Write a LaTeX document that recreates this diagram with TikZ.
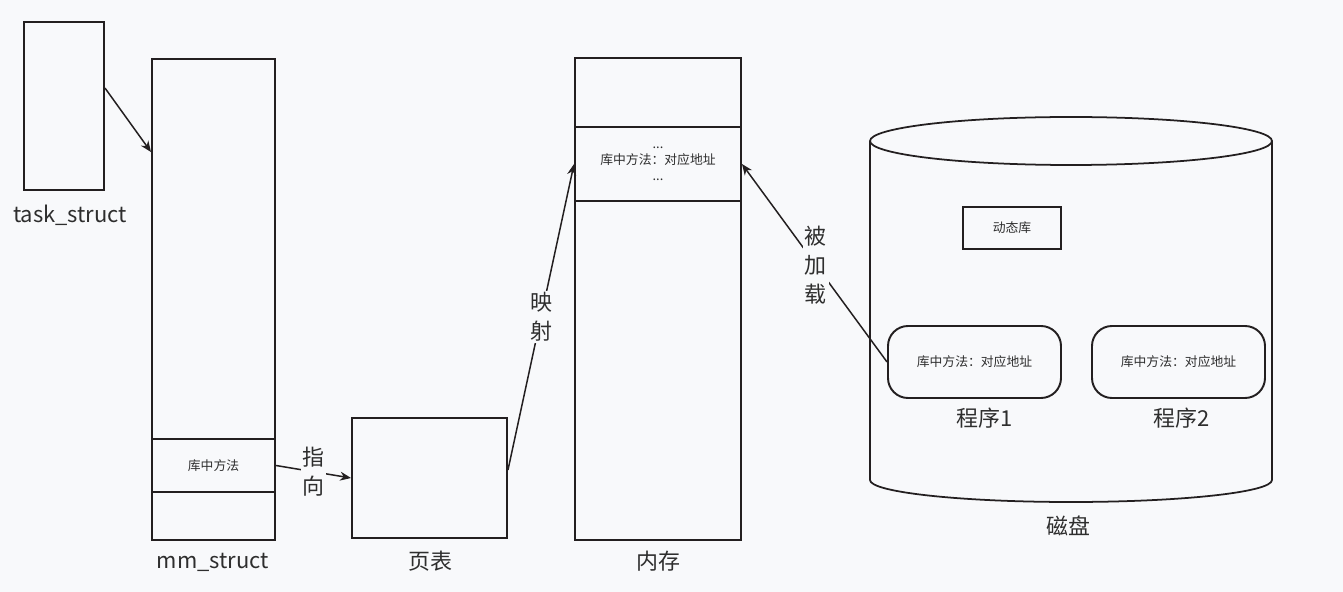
\documentclass[tikz,border=0pt]{standalone}
\usepackage{fontspec}
\setmainfont{Noto Sans CJK SC}
\usetikzlibrary{arrows.meta,positioning,calc}
\definecolor{paper}{HTML}{F8F9FB}
\definecolor{ink}{HTML}{231F20}
\definecolor{txt}{HTML}{2E2E2E}
\tikzset{
  % ---- boxes -----------------------------------------------------
  blk/.style   = {draw=ink, line width=1.1pt, inner sep=0pt, align=center,
                  text=txt, font=\fontsize{7.3}{9}\selectfont},
  prog/.style  = {blk, rounded corners=0.4cm},
  % ---- captions --------------------------------------------------
  lbl/.style   = {text=txt, inner sep=1pt, font=\fontsize{12.5}{14}\selectfont},
  vlab/.style  = {lbl, fill=paper, align=center,
                  font=\fontsize{12.5}{16.4}\selectfont},
  % ---- connectors ------------------------------------------------
  arr/.style   = {draw=ink, line width=0.85pt,
                  -{Stealth[length=2.2mm, width=1.8mm]}},
}
\begin{document}
\begin{tikzpicture}
\fill[paper] (0,0) rectangle (26.86,-11.84);
\useasboundingbox (0,0) rectangle (26.86,-11.84);
% task_struct
\node[blk, minimum width=1.6cm, minimum height=3.36cm] (task) at (1.28,-2.12) {};
\node[lbl] (tasklab) at (1.40,-4.30) {task\_struct};
% mm_struct
\node[blk, minimum width=2.46cm, minimum height=9.62cm] (mm) at (4.27,-5.99) {};
\node[blk, minimum width=2.46cm, minimum height=1.06cm] (mmlib) at (4.27,-9.31) {库中方法};
\node[lbl] (mmlab) at (4.26,-11.24) {mm\_struct};
% page table
\node[blk, minimum width=3.1cm, minimum height=2.4cm] (pt) at (8.59,-9.56) {};
\node[lbl] (ptlab) at (8.60,-11.22) {页表};
% memory
\node[blk, minimum width=3.32cm, minimum height=9.64cm] (mem) at (13.16,-5.98) {};
\node[blk, minimum width=3.32cm, minimum height=1.48cm] (memlib) at (13.16,-3.28)
  {...\\库中方法：对应地址\\...};
\node[lbl] (memlab) at (13.16,-11.22) {内存};
% disk
\draw[ink, line width=1pt] (21.42,-2.82) ellipse [x radius=4.02, y radius=0.48];
\draw[ink, line width=1pt] (17.40,-2.82) -- (17.40,-9.60)
  arc[start angle=180, end angle=360, x radius=4.02, y radius=0.44] -- (25.44,-2.82);
\node[lbl] (disklab) at (21.36,-10.52) {磁盘};
\node[blk, minimum width=1.96cm, minimum height=0.84cm] (dyn) at (20.24,-4.56) {动态库};
\node[prog, minimum width=3.46cm, minimum height=1.44cm] (p1) at (19.49,-7.24) {库中方法：对应地址};
\node[lbl] (p1lab) at (19.70,-8.36) {程序1};
\node[prog, minimum width=3.46cm, minimum height=1.44cm] (p2) at (23.57,-7.24) {库中方法：对应地址};
\node[lbl] (p2lab) at (23.64,-8.36) {程序2};
% connectors
\draw[arr] ([yshift=0.36cm]task.east) -- ([yshift=-1.88cm]mm.north west);
\draw[arr] (mmlib.east) -- node[vlab] {指\\向} (pt.west);
\draw[arr] ([yshift=0.16cm]pt.east) -- node[vlab] {映\\射} (memlib.west);
\draw[arr] (p1.west) -- node[vlab, pos=0.49] {被\\加\\载} (memlib.east);
\end{tikzpicture}
\end{document}
